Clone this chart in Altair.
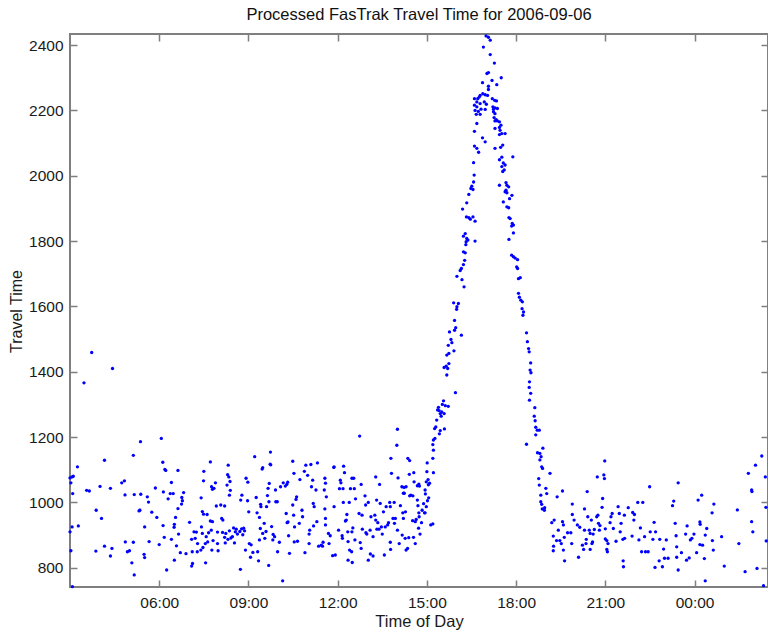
import altair as alt
import pandas as pd

# ---- data (hour of day, travel time) ----
morning_hours = [3.73, 3.47, 4.43, 3.00, 3.07, 3.11, 3.03, 3.09, 3.25, 3.07, 3.28, 3.00, 3.03, 3.08, 3.56, 3.65,
    3.88, 4.06, 4.01, 4.16, 3.87, 4.16, 4.36, 4.41, 4.36, 4.74, 4.83, 4.85, 4.86, 4.93, 5.00, 5.08, 5.13, 5.16,
    5.13, 5.16, 5.37, 5.38, 5.32, 5.35, 5.51, 5.49, 5.51, 5.60, 5.64, 5.66, 5.75, 5.87, 5.92, 6.00, 6.07, 6.12,
    6.14, 6.13, 6.19, 6.22, 6.17, 6.25, 6.30, 6.41, 6.37, 6.47, 6.41, 6.50, 6.51, 6.55, 6.51, 6.63, 6.63, 6.65,
    6.58, 6.71, 6.76, 6.78, 6.75, 6.82, 6.90, 7.02, 7.09, 7.11, 7.09, 7.12, 7.17, 7.25, 7.21, 7.29, 7.28, 7.41,
    7.50, 7.49, 7.45, 7.49, 7.42, 7.45, 7.40, 7.47, 7.56, 7.61, 7.58, 7.63, 7.66, 7.55, 7.72, 7.72, 7.76, 7.79,
    7.84, 7.89, 7.79, 7.75, 7.81, 7.77, 7.92, 7.96, 7.96, 7.98, 8.07, 8.10, 8.14, 8.13, 8.20, 8.20, 8.22, 8.30,
    8.32, 8.34, 8.38, 8.36, 8.39, 8.28, 8.24, 8.31, 8.36, 8.41, 8.46, 8.50, 8.53, 8.56, 8.59, 8.63, 8.71, 8.73,
    8.74, 8.78, 8.77, 8.81, 8.84, 8.87, 8.90, 8.92, 8.98, 8.97, 9.01, 9.03, 9.07, 9.15, 9.09, 9.21, 9.26, 9.29,
    9.31, 9.34, 9.37, 9.41, 9.42, 9.46, 9.48, 9.40, 9.37, 9.48, 9.53, 9.55, 9.59, 9.61, 9.64, 9.66, 9.68, 9.70,
    9.74, 9.73, 9.75, 9.69, 9.78, 9.83, 9.82, 9.88, 9.91, 9.92, 9.97, 9.98, 10.04, 10.08, 10.15, 10.17, 10.24,
    10.29, 10.32, 10.27, 10.30, 10.33, 10.35, 10.38, 10.49, 10.53, 10.49, 10.52, 10.55, 10.54, 10.62, 10.60,
    10.65, 10.71, 10.73, 10.80, 10.82, 10.88, 10.90, 10.93, 10.99, 11.04, 11.06, 11.04, 11.10, 11.12, 11.16,
    11.18, 11.21, 11.19, 11.27, 11.32, 11.30, 11.36]
morning_tt = [1459, 1366, 1410, 1075, 1078, 1080, 1060, 1027, 1109, 925, 928, 910, 852, 742, 1037, 1035,
    976, 951, 1049, 1129, 851, 866, 836, 859, 1043, 1060, 1066, 1023, 879, 849, 852, 815, 878, 778,
    1144, 1024, 1186, 1025, 974, 976, 925, 841, 831, 1017, 1001, 880, 970, 1044, 954, 871, 1196, 1123,
    1032, 929, 1101, 1098, 893, 793, 1011, 1061, 1027, 1027, 887, 924, 933, 954, 823, 1098, 981, 903,
    867, 846, 1015, 1005, 995, 1030, 843, 939, 887, 849, 805, 813, 910, 909, 890, 874, 849, 1014,
    1095, 1066, 972, 964, 925, 905, 854, 862, 815, 963, 895, 879, 907, 874, 1124, 943, 1048, 1040,
    1043, 1060, 941, 915, 883, 854, 989, 909, 874, 852, 992, 951, 946, 908, 989, 893, 876, 1085,
    1114, 1078, 1064, 1022, 1037, 1053, 905, 887, 913, 891, 895, 922, 876, 910, 918, 903, 911, 795,
    1007, 1022, 919, 901, 921, 913, 854, 1074, 1062, 1005, 971, 874, 832, 847, 870, 1140, 1015, 968,
    849, 821, 954, 994, 987, 1102, 1106, 920, 885, 905, 936, 890, 911, 987, 1021, 1043, 807, 1058,
    1154, 1117, 1115, 1002, 926, 902, 885, 895, 1038, 1002, 1002, 849, 878, 1048, 760, 1060, 1050,
    1055, 1062, 966, 938, 940, 898, 844, 1126, 1089, 992, 961, 925, 879, 1017, 1009,
    881, 936, 1070, 976, 956, 1095, 846, 1114, 1083, 874, 915, 903, 1116, 1048, 1068,
    997, 987, 928, 1038, 1121, 941, 866]

midday_hours = [11.88, 11.87, 12.20, 12.23, 12.09, 12.11, 12.06, 12.18, 11.88, 12.19, 12.39, 12.43, 12.48,
    12.54, 12.56, 12.60, 12.31, 12.29, 12.26, 12.03, 12.15, 12.16, 11.75, 11.71, 11.83, 11.92, 11.69, 11.59,
    11.59, 11.57, 11.62, 11.57, 11.59, 11.55, 11.51, 11.45, 11.49, 12.34, 12.35, 12.40, 12.47, 12.49, 12.35,
    12.48, 12.51, 12.58, 12.72, 12.74, 12.79, 12.82, 12.83, 12.76, 12.79, 12.92, 12.94, 12.95, 12.98, 13.03,
    13.03, 13.09, 13.10, 13.19, 13.12, 13.19, 13.25, 13.28, 13.31, 13.28, 13.32, 13.41, 13.43, 13.35, 13.39,
    13.47, 13.50, 13.57, 13.54, 13.60, 13.63, 13.68, 13.71, 13.75, 13.77, 13.77, 13.78, 13.79, 13.81, 13.86,
    13.90, 13.91, 13.94, 13.99, 14.01, 14.03, 14.01, 14.07, 14.11, 14.16, 14.19, 14.21, 14.23, 14.24, 14.30,
    14.28, 14.21, 14.17, 14.27, 14.30, 14.35, 14.39, 14.41, 14.36, 14.42, 14.42, 14.46, 14.52, 14.53, 14.56,
    14.57, 14.61, 14.55, 14.61, 14.64, 14.68, 14.73, 14.75, 14.68, 14.70, 14.73, 14.74, 14.72, 14.77, 14.82,
    14.84, 14.89, 14.92, 14.94, 14.95, 14.98, 15.00, 15.01, 15.04, 15.05, 15.09, 15.06, 15.02, 14.98, 14.94,
    15.13, 15.20]
midday_tt = [1109, 1107, 1111, 1091, 1068, 1060, 1042, 1042, 987, 1000, 1000, 1042, 1074,
    1074, 1042, 1011, 963, 946, 943, 915, 898, 890, 898, 874, 837, 839, 905, 951,
    931, 980, 1017, 1074, 1059, 1038, 878, 869, 866, 910, 880, 854, 849, 816, 823,
    910, 922, 885, 966, 1203, 1055, 961, 918, 877, 859, 1020, 992, 907, 903, 1000,
    823, 915, 842, 836, 956, 895, 961, 1078, 1007, 946, 918, 1055, 997, 938, 918,
    925, 903, 839, 971, 925, 987, 931, 938, 1000, 987, 878, 856, 1135, 1089, 951,
    1000, 936, 951, 1175, 1224, 1075, 915, 874, 990, 1048, 968, 1028, 1046, 1028, 1048,
    971, 951, 900, 890, 854, 859, 892, 1086, 1135, 1128, 1020, 1022, 944, 1020, 1091,
    1063, 874, 893, 941, 948, 1051, 1056, 1050, 1007, 990, 968, 956, 921, 903, 938,
    976, 996, 968, 1038, 1026, 1063, 1094, 1121, 1070, 1054, 1059, 1014, 1005, 987, 968,
    931, 934]

peak_hours = [15.22, 15.20, 15.22, 15.20, 15.22, 15.27, 15.26, 15.30, 15.33, 15.36, 15.39, 15.41, 15.45,
    15.48, 15.50, 15.52, 15.56, 15.58, 15.59, 15.62, 15.45, 15.42, 15.72, 15.96, 15.58, 15.65, 15.70, 15.67,
    15.74, 15.67, 15.74, 15.72, 15.81, 15.84, 15.91, 15.76, 15.93, 16.16, 15.90, 16.06, 16.01, 16.00, 15.93,
    15.97, 16.25, 16.18, 16.01, 16.12, 16.16, 16.23, 16.27, 16.23, 16.29, 16.31, 16.32, 16.38, 16.34, 16.23,
    16.29, 16.62, 16.62, 16.46, 16.41, 16.33, 16.55, 16.20, 16.34, 16.41, 16.48, 16.55, 16.51, 16.57, 16.59,
    16.57, 16.74, 16.68, 16.60, 16.87, 16.96, 16.60, 16.68, 16.66, 16.62, 16.73, 16.79, 16.82, 16.96, 16.60,
    16.68, 16.68, 16.79, 16.93, 17.00, 16.60, 16.71, 16.76, 16.79, 16.88, 16.96, 17.04, 17.07, 17.07, 16.87,
    17.02, 17.07, 16.90, 16.99, 17.07, 17.13, 17.13, 17.27, 17.50, 17.19, 17.35, 17.20, 17.28, 17.34, 17.22,
    17.24, 17.29, 17.37, 17.24, 17.29, 17.26, 17.33, 17.37, 17.29, 17.44, 17.49, 17.44, 17.29, 17.46, 17.52,
    17.44, 17.63, 17.55, 17.29, 17.48, 17.89, 17.52, 17.44, 17.57, 17.63, 17.52, 17.60, 17.55, 17.44, 17.66,
    17.69, 17.75, 17.66, 17.63, 17.69, 17.86, 17.78, 17.57, 17.69, 17.75, 17.76, 17.80, 17.87, 17.91, 17.85,
    17.91, 17.76, 17.85, 17.91, 17.97, 18.05, 18.02, 18.05, 18.08, 18.14, 18.08, 18.11, 18.16, 18.21, 18.20,
    18.25, 18.23, 18.35, 18.38, 18.42, 18.44, 18.49, 18.47, 18.50, 18.45, 18.44, 18.49, 18.45, 18.35, 18.63,
    18.61, 18.64, 18.66, 18.71, 18.78, 18.66, 18.90, 18.80, 18.72, 18.84, 18.80, 18.86, 18.89, 19.14, 18.76,
    18.78, 19.00, 19.03, 18.83, 18.83, 18.86, 18.88, 18.95, 18.96, 19.38, 19.20, 19.28, 19.25, 19.42, 19.36,
    19.26, 19.25]
peak_tt = [1091, 1135, 1160, 1177, 1191, 1196, 1226, 1231, 1252, 1283, 1291, 1281, 1272,
    1264, 1277, 1300, 1311, 1272, 1225, 1296, 1220, 1210, 1294, 1336, 1413, 1417, 1410, 1390,
    1425, 1451, 1456, 1481, 1499, 1489, 1464, 1522, 1527, 1512, 1611, 1609, 1599, 1591, 1557,
    1535, 1660, 1682, 1692, 1710, 1716, 1728, 1741, 1767, 1764, 1789, 1798, 1803, 1808, 1815,
    1823, 1800, 1861, 1867, 1872, 1874, 1874, 1898, 1917, 1943, 1961, 1958, 1968, 1981, 2002,
    2040, 2072, 2084, 2091, 2116, 2104, 2136, 2160, 2188, 2200, 2197, 2188, 2204, 2203, 2216,
    2211, 2226, 2221, 2226, 2219, 2236, 2236, 2241, 2246, 2251, 2248, 2246, 2274, 2264, 2285,
    2313, 2316, 2394, 2428, 2424, 2415, 2371, 2345, 2300, 2292, 2279, 2236, 2231, 2229, 2211,
    2204, 2208, 2206, 2196, 2190, 2178, 2172, 2168, 2168, 2165, 2155, 2148, 2145, 2139, 2129,
    2126, 2129, 2094, 2084, 2087, 2058, 2057, 2049, 2039, 2033, 2028, 2018, 2013, 1971, 1979,
    1971, 1966, 1956, 1951, 1948, 1940, 1930, 1920, 1905, 1902, 1872, 1869, 1854, 1849, 1846,
    1825, 1805, 1757, 1752, 1748, 1743, 1721, 1716, 1685, 1688, 1640, 1628, 1619, 1614, 1593,
    1583, 1573, 1519, 1492, 1471, 1461, 1427, 1405, 1397, 1369, 1352, 1334, 1313, 1178, 1290,
    1264, 1250, 1230, 1221, 1221, 1207, 1166, 1150, 1152, 1140, 1130, 1109, 1104, 1089, 1073,
    1053, 1043, 1027, 1022, 1002, 994, 980, 976, 984, 1017, 938, 946, 897, 915, 883,
    866, 852]

evening_hours = [19.56, 19.47, 19.52, 19.59, 19.63, 19.62, 19.59, 19.56, 19.73, 19.84, 19.89, 19.89, 19.95,
    19.87, 20.06, 20.10, 20.14, 20.23, 20.27, 20.30, 20.30, 20.35, 20.39, 20.41, 20.36, 20.46, 20.49, 20.49,
    20.53, 20.55, 20.57, 20.59, 20.63, 20.71, 20.73, 20.75, 20.77, 20.80, 20.82, 20.91, 20.89, 20.95, 20.98,
    20.97, 21.00, 21.00, 21.05, 21.05, 21.07, 21.09, 21.16, 21.19, 21.23, 21.27, 21.36, 21.43, 21.47, 21.50,
    21.53, 21.59, 21.60, 21.61, 21.64, 21.65, 21.77, 21.92, 21.98, 21.96, 21.90, 22.09, 22.13, 22.18, 22.22,
    22.26, 22.32, 22.35, 22.44, 22.49, 22.51, 22.60, 22.64, 22.69, 22.67, 22.81, 22.83, 22.92, 22.96, 22.99,
    23.05, 23.11, 23.26, 23.30, 23.35, 23.38, 23.40, 23.45, 23.40, 23.45, 23.56, 23.70, 23.75, 23.73, 23.82,
    23.86, 23.91, 23.98, 24.07, 24.12, 24.18, 24.19, 24.24, 24.18, 24.27, 24.33, 24.36, 24.41, 24.36, 24.59,
    24.63, 24.65, 24.60, 24.91, 25.00, 25.44, 25.49, 25.70, 25.81, 25.92, 25.93, 25.92, 25.96, 26.05, 26.10,
    26.26, 26.38, 26.40, 26.41, 26.32]
evening_tt = [1035, 883, 874, 854, 821, 893, 931, 941, 907, 907, 963, 995, 946,
    874, 931, 832, 924, 869, 856, 980, 915, 874, 1033, 956, 887, 915, 905, 856,
    946, 874, 879, 903, 917, 956, 1078, 961, 936, 915, 929, 1012, 985, 1084, 1127,
    1073, 919, 888, 883, 856, 849, 874, 938, 956, 966, 920, 881, 987, 966, 910,
    936, 887, 821, 803, 961, 890, 984, 969, 963, 946, 897, 1000, 885, 922, 849,
    1000, 895, 849, 849, 1048, 910, 887, 939, 910, 801, 821, 887, 803, 857, 829,
    885, 829, 990, 1004, 936, 898, 864, 1060, 832, 793, 846, 903, 928, 823, 830,
    885, 890, 903, 846, 1007, 940, 933, 1022, 871, 869, 828, 900, 920, 760, 968,
    854, 995, 883, 895, 805, 977, 874, 788, 1089, 1038, 1033, 941, 910, 1114, 798,
    1142, 1078, 985, 882, 745]

x_tick_hours = [6, 9, 12, 15, 18, 21, 24]
y_tick_values = [800, 1000, 1200, 1400, 1600, 1800, 2000, 2200, 2400]

hours = morning_hours + midday_hours + peak_hours + evening_hours
tt = morning_tt + midday_tt + peak_tt + evening_tt
df = pd.DataFrame({"hour": hours, "tt": tt})

FRAME = "#7f7f7f"
FONT = "Liberation Sans, Arial, Helvetica, sans-serif"
xscale = alt.Scale(domain=[3.0, 26.47], nice=False, zero=False)
yscale = alt.Scale(domain=[741, 2434], nice=False, zero=False)
label_expr = "(datum.value % 24 < 10 ? '0' : '') + (datum.value % 24) + ':00'"

points = alt.Chart(df).mark_circle(size=11, color="#0000ff", opacity=1).encode(
    x=alt.X("hour:Q", scale=xscale,
            axis=alt.Axis(orient="bottom", values=x_tick_hours, labelExpr=label_expr,
                          title="Time of Day", offset=-7, tickSize=7, domain=False, grid=False,
                          labelPadding=8, titlePadding=3, titleFontSize=16.5)),
    y=alt.Y("tt:Q", scale=yscale,
            axis=alt.Axis(orient="left", values=y_tick_values, format="d", title="Travel Time",
                          offset=-7, tickSize=7, domain=False, grid=False, labelPadding=7,
                          titleX=-61, titleY=277, titleAngle=270, titleAlign="center",
                          titleBaseline="middle", titleFontSize=16)),
)

mirror = alt.Chart(df).mark_point(opacity=0).encode(
    x=alt.X("hour:Q", scale=xscale,
            axis=alt.Axis(orient="top", values=x_tick_hours, labels=False, title="",
                          offset=-7, tickSize=7, domain=False, grid=False)),
    y=alt.Y("tt:Q", scale=yscale,
            axis=alt.Axis(orient="right", values=y_tick_values, labels=False, title="",
                          offset=-7, tickSize=7, domain=False, grid=False)),
)

chart = (
    alt.layer(points, mirror)
    .resolve_axis(x="independent", y="independent")
    .properties(
        width=698, height=553,
        title=alt.Title("Processed FasTrak Travel Time for 2006-09-06", fontSize=16.5,
                        font=FONT, fontWeight="normal", color="#111", offset=10),
        autosize=alt.AutoSizeParams(type="none"),
        padding={"left": 70, "top": 34, "right": 0, "bottom": 45},
    )
    .configure_view(stroke=FRAME, strokeWidth=2)
    .configure_axis(tickColor=FRAME, tickWidth=1.5, labelFont=FONT, labelFontSize=15.5,
                    labelColor="#1a1a1a", titleFont=FONT, titleFontSize=15.5,
                    titleFontWeight="normal", titleColor="#1a1a1a")
)

chart.save("out.html", embed_options={"renderer": "svg", "actions": False})
